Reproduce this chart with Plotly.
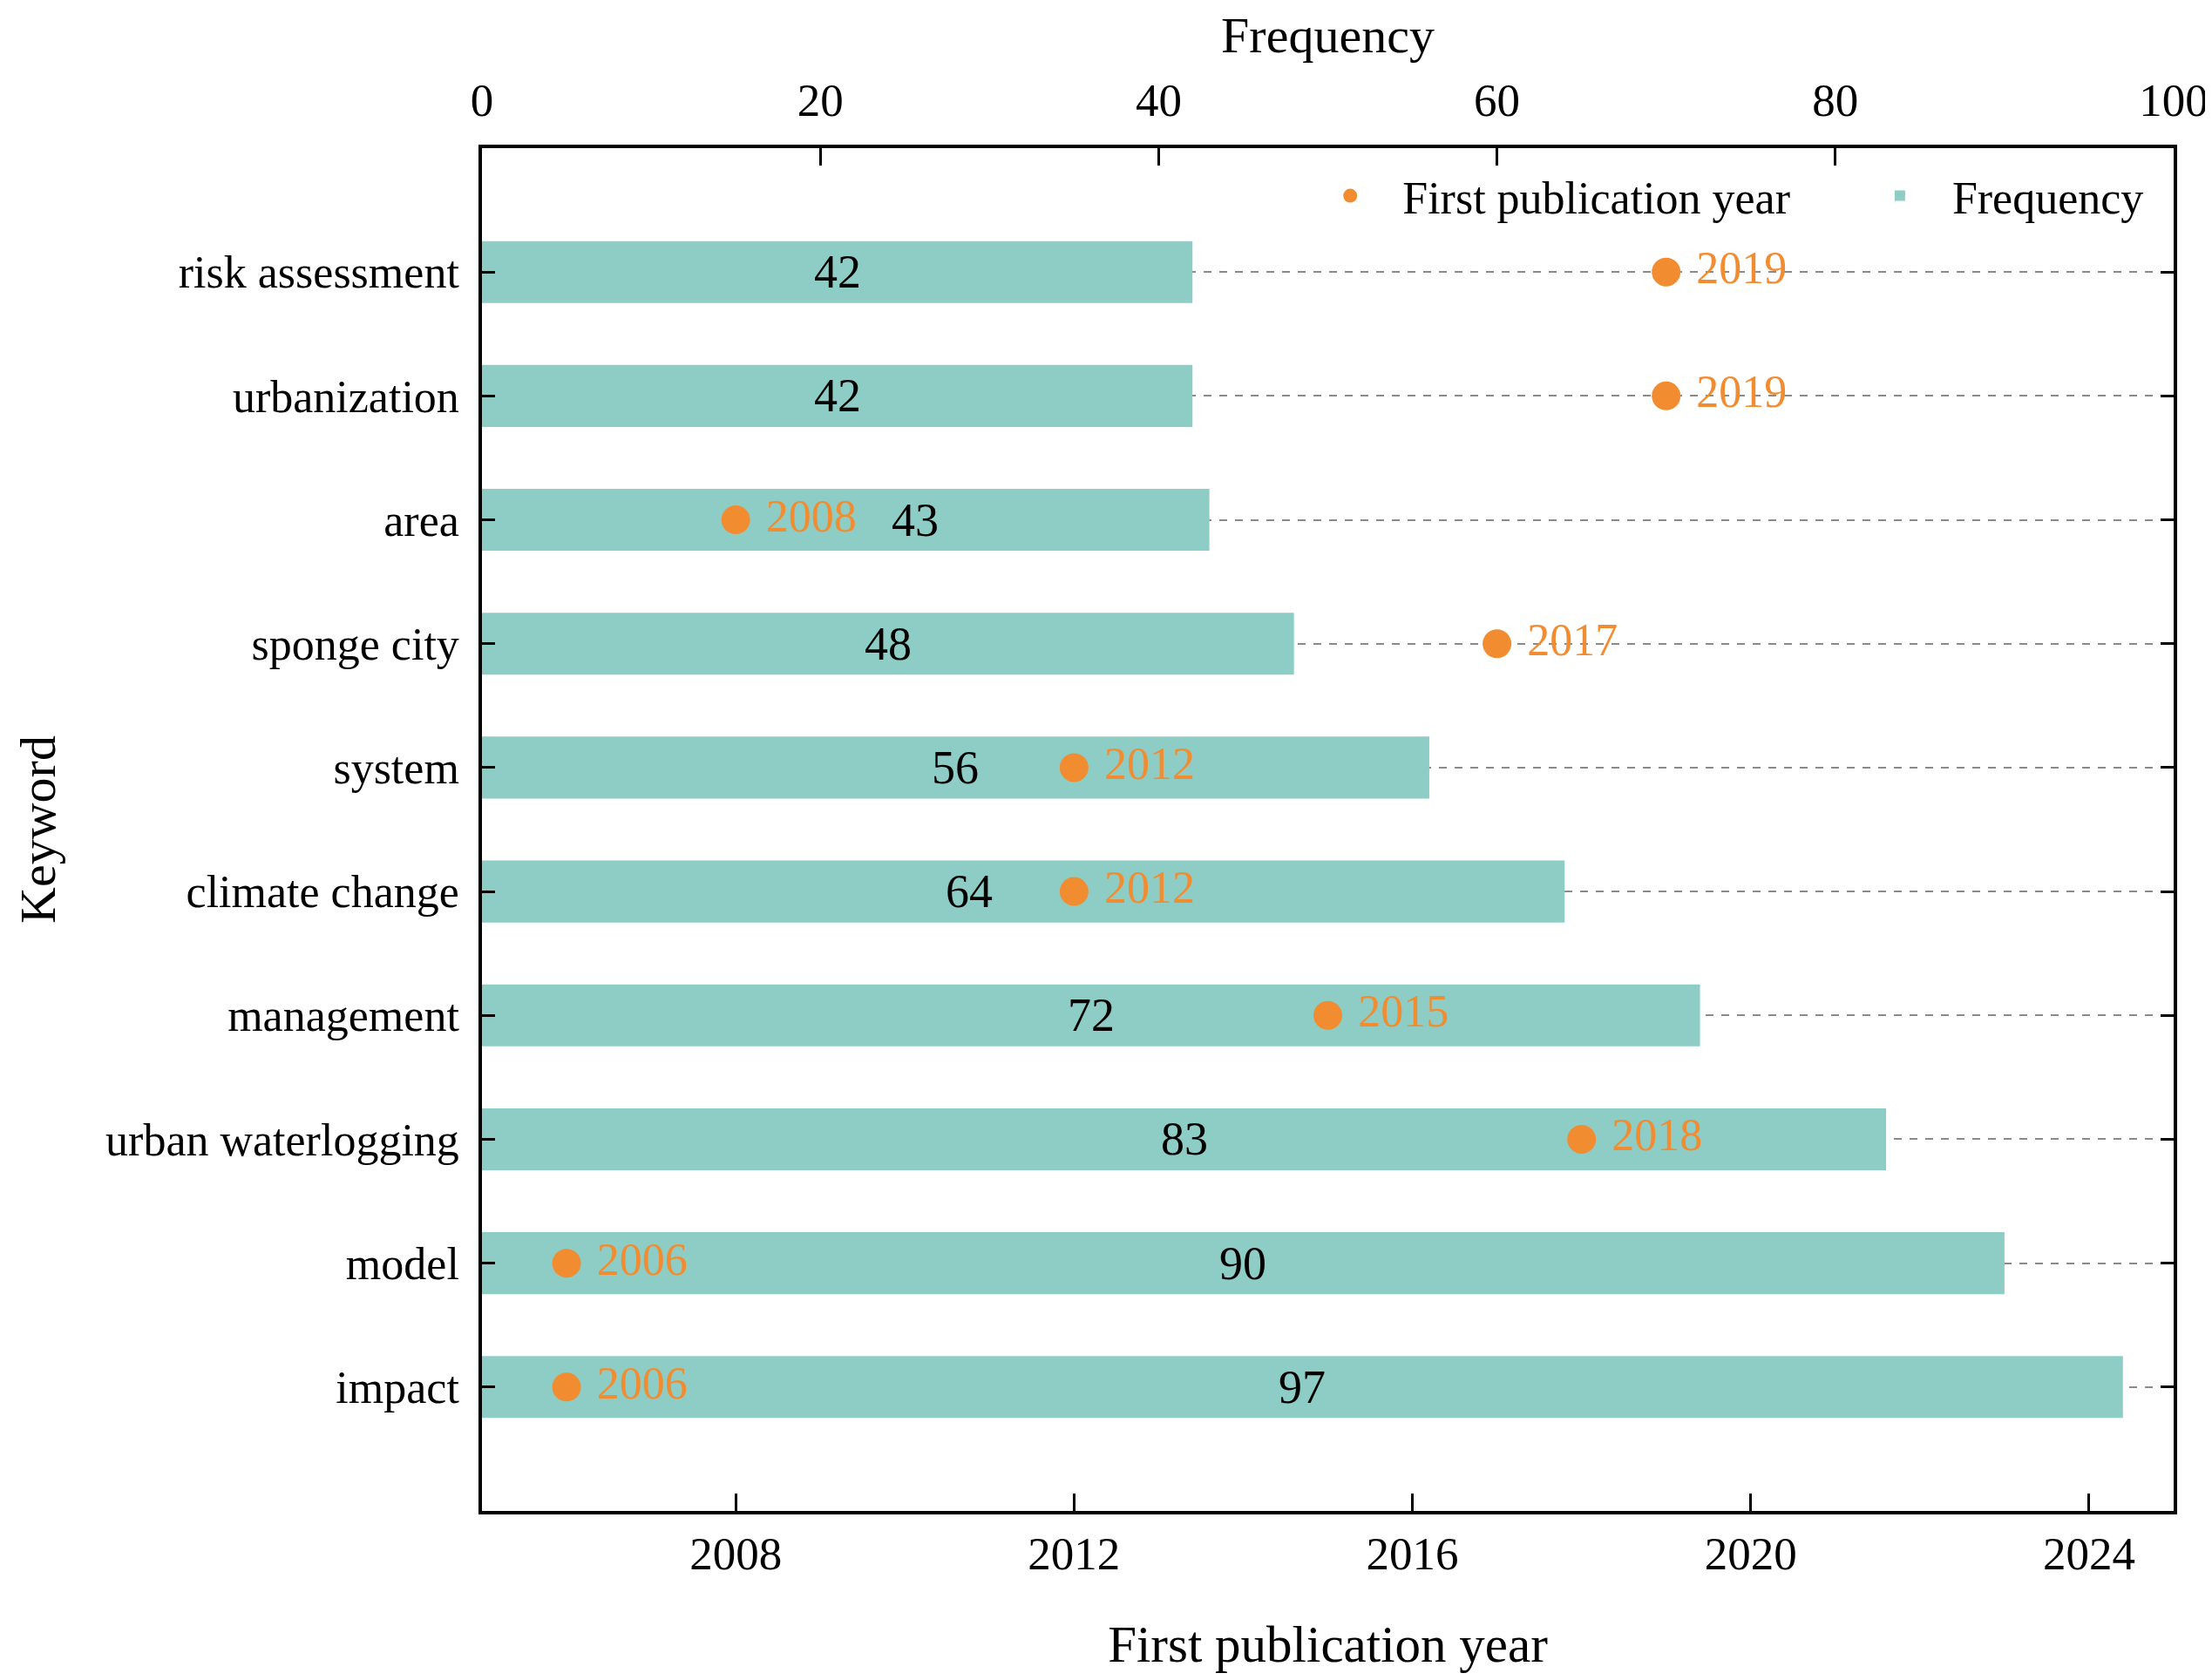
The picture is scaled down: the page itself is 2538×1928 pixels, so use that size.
import plotly.graph_objects as go

# ---- data (bottom to top) ----
keywords = ["impact", "model", "urban waterlogging", "management", "climate change",
            "system", "sponge city", "area", "urbanization", "risk assessment"]
frequency = [97, 90, 83, 72, 64, 56, 48, 43, 42, 42]
first_year = [2006, 2006, 2018, 2015, 2012, 2012, 2017, 2008, 2019, 2019]
freq_ticks = [0, 20, 40, 60, 80, 100]
year_ticks = [2008, 2012, 2016, 2020, 2024]

# ---- style ----
BAR = "#8ECDC6"
ORANGE = "#F28C30"
FONT = "Liberation Serif"
# pixel nudges for value labels that would collide with year markers
label_shift = {"area": 80, "climate change": -62}

fig = go.Figure()

fig.add_trace(go.Bar(
    y=keywords, x=frequency, orientation="h",
    marker=dict(color=BAR, line=dict(width=0)),
    name="Frequency", legend="legend2",
    xaxis="x", yaxis="y",
))

fig.add_trace(go.Scatter(
    y=keywords, x=first_year, mode="markers+text",
    texttemplate=" %{x}", textposition="middle right",
    textfont=dict(color=ORANGE, size=52, family=FONT),
    marker=dict(color=ORANGE, size=33, line=dict(width=0)),
    name="First publication year", legend="legend",
    xaxis="x2", yaxis="y", cliponaxis=False,
))

for kw, f in zip(keywords, frequency):
    fig.add_annotation(
        x=f / 2, y=kw, xref="x", yref="y", text=str(f), showarrow=False,
        font=dict(size=54, color="black", family=FONT),
        xshift=label_shift.get(kw, 0),
    )

axis_common = dict(
    showline=True, linecolor="black", linewidth=3.5,
    ticks="inside", tickcolor="black", tickwidth=3, ticklen=20,
    showgrid=False, zeroline=False,
    tickfont=dict(size=53, color="black", family=FONT),
)

legend_common = dict(
    orientation="h", y=0.965, yanchor="middle", xanchor="right",
    font=dict(size=52, family=FONT, color="black"),
    bgcolor="rgba(0,0,0,0)", itemwidth=110,
)

fig.update_layout(
    width=2538, height=1928,
    margin=dict(l=545, r=52, t=162, b=202),
    paper_bgcolor="white", plot_bgcolor="white",
    font=dict(family=FONT, color="black"),
    bargap=0.5,
    showlegend=True,
    legend=dict(**legend_common, x=0.776),
    legend2=dict(**legend_common, x=0.985),
    xaxis=dict(
        **axis_common, side="top", range=[0, 100], tickvals=freq_ticks,
        ticklabelstandoff=12,
        title=dict(text="Frequency", font=dict(size=58, family=FONT), standoff=10),
    ),
    xaxis2=dict(
        **axis_common, side="bottom", overlaying="x", range=[2005, 2025],
        tickvals=year_ticks,
        title=dict(text="First publication year", font=dict(size=59, family=FONT), standoff=55),
    ),
    yaxis=dict(
        type="category", categoryorder="array", categoryarray=keywords,
        range=[-1, 10],
        showline=True, linecolor="black", linewidth=3.5, mirror="ticks",
        ticks="inside", tickcolor="black", tickwidth=3, ticklen=15,
        ticklabelstandoff=12,
        showgrid=True, gridcolor="#8a8a8a", gridwidth=2, griddash="dash",
        zeroline=False,
        tickfont=dict(size=52, color="black", family=FONT),
        title=dict(text="Keyword", font=dict(size=58, family=FONT), standoff=40),
    ),
)

fig.write_html("out.html")
